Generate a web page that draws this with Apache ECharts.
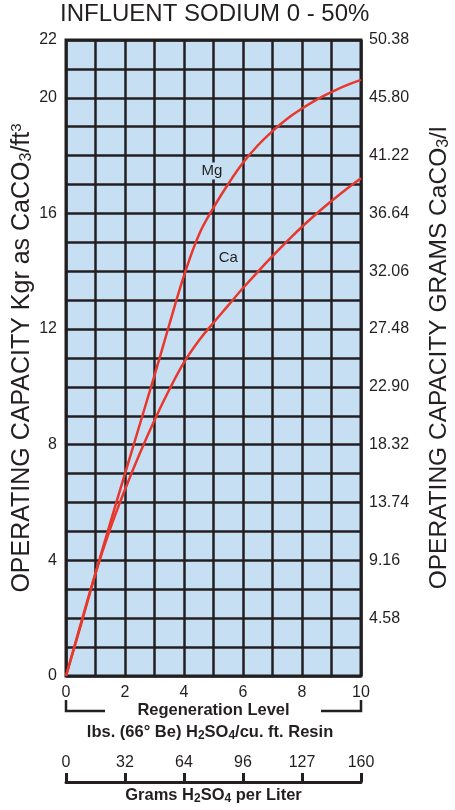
<!DOCTYPE html>
<html><head><meta charset="utf-8">
<script src="https://cdn.jsdelivr.net/npm/echarts@6/dist/echarts.min.js"></script>
<style>html,body{margin:0;padding:0;background:#fff}#c{width:455px;height:810px}</style>
</head><body><div id="c"></div>
<script>
// ---- data ----
const regenLevels = [0,0.5,1,1.5,2,2.5,3,3.5,4,4.5,5,5.5,6,6.5,7,7.5,8,8.5,9,9.5,10];
const mgCapacity  = [0,1.75,3.55,5.3,7.0,8.7,10.4,12.15,13.85,15.25,16.2,17.02,17.75,18.35,18.85,19.28,19.63,19.94,20.2,20.43,20.62];
const caCapacity  = [0,1.8,3.55,5.1,6.45,7.7,8.85,9.9,10.85,11.6,12.22,12.82,13.42,13.98,14.52,15.04,15.54,16.0,16.43,16.84,17.22];
const xTickLabels = [0,2,4,6,8,10];
const leftTickLabels = [0,4,8,12,16,20,22];
const rightTickValues = [2,4,6,8,10,12,14,16,18,20,22];
const rightTickLabels = ['4.58','9.16','13.74','18.32','22.90','27.48','32.06','36.64','41.22','45.80','50.38'];
const gramsTickValues = [0,2,4,6,8,10];
const gramsTickLabels = ['0','32','64','96','127','160'];
const mgLabelAt = [4.95, 17.47];
const caLabelAt = [5.5, 14.46];

// ---- style ----
const FONT = 'Liberation Sans, Arial, sans-serif';
const INK = '#231f20';
const RED = '#e8382e';
const FILL = '#c7dff2';
const G = {left: 66, right: 94, top: 40, bottom: 134};

const chart = echarts.init(document.getElementById('c'), null, {renderer: 'canvas'});
const zip = (xs, ys) => xs.map((x, i) => [x, ys[i]]);

const option = {
  animation: false,
  backgroundColor: '#fff',
  title: {
    text: 'INFLUENT SODIUM 0 - 50%', left: 60, top: 2, padding: 0,
    textStyle: {fontSize: 24, fontWeight: 'normal', color: INK, fontFamily: FONT}
  },
  grid: [
    {left: G.left, right: G.right, top: G.top, bottom: G.bottom, show: true,
     containLabel: false, outerBoundsMode: 'none',
     backgroundColor: FILL, borderColor: INK, borderWidth: 3},
    {left: G.left, right: G.right, top: 782, height: 10, show: false,
     containLabel: false, outerBoundsMode: 'none'}
  ],
  xAxis: [
    {type: 'value', gridIndex: 0, min: 0, max: 10, interval: 1, position: 'bottom',
     axisLine: {show: false, onZero: false}, axisTick: {show: false},
     splitLine: {show: true, lineStyle: {color: INK, width: 2.5}},
     axisLabel: {margin: 9, fontSize: 16, color: INK, fontFamily: FONT,
       formatter: v => xTickLabels.includes(v) ? String(v) : ''}},
    {type: 'value', gridIndex: 1, min: 0, max: 10, interval: 2, position: 'top',
     axisLine: {show: true, onZero: false, lineStyle: {color: INK, width: 3}},
     axisTick: {show: true, inside: false, length: 9, lineStyle: {color: INK, width: 3}},
     splitLine: {show: false},
     axisLabel: {margin: 11, fontSize: 16, color: INK, fontFamily: FONT,
       formatter: v => { const i = gramsTickValues.indexOf(v); return i >= 0 ? gramsTickLabels[i] : ''; }}}
  ],
  yAxis: [
    {type: 'value', gridIndex: 0, min: 0, max: 22, interval: 1, position: 'left',
     axisLine: {show: false, onZero: false}, axisTick: {show: false},
     splitLine: {show: true, lineStyle: {color: INK, width: 2.5}},
     axisLabel: {margin: 9, fontSize: 16, color: INK, fontFamily: FONT,
       formatter: v => leftTickLabels.includes(v) ? String(v) : ''}},
    {type: 'value', gridIndex: 0, min: 0, max: 22, interval: 1, position: 'right',
     axisLine: {show: false, onZero: false}, axisTick: {show: false}, splitLine: {show: false},
     axisLabel: {margin: 8, fontSize: 16, color: INK, fontFamily: FONT,
       formatter: v => { const i = rightTickValues.indexOf(v); return i >= 0 ? rightTickLabels[i] : ''; }}},
    {type: 'value', gridIndex: 1, min: 0, max: 1, show: false}
  ],
  series: [
    {name: 'Mg', type: 'line', xAxisIndex: 0, yAxisIndex: 0, data: zip(regenLevels, mgCapacity),
     smooth: 0.4, showSymbol: false, symbol: 'none', lineStyle: {color: RED, width: 2.5}, z: 5},
    {name: 'Ca', type: 'line', xAxisIndex: 0, yAxisIndex: 0, data: zip(regenLevels, caCapacity),
     smooth: 0.4, showSymbol: false, symbol: 'none', lineStyle: {color: RED, width: 2.5}, z: 5}
  ]
};
chart.setOption(option);

const p0 = chart.convertToPixel({gridIndex: 0}, [0, 0]);
const p10 = chart.convertToPixel({gridIndex: 0}, [10, 22]);
const pMg = chart.convertToPixel({gridIndex: 0}, mgLabelAt);
const pCa = chart.convertToPixel({gridIndex: 0}, caLabelAt);
const midX = (p0[0] + p10[0]) / 2;
const midY = (p0[1] + p10[1]) / 2;
const boldStyle = {fontSize: 16.5, fontWeight: 'bold', fontFamily: FONT, fill: INK};
const subRich = {sub: {fontSize: 12, fontWeight: 'bold', fontFamily: FONT, fill: INK, padding: [8, 0, 0, 0]}};
const nameRich = {
  sub: {fontSize: 16, fontFamily: FONT, fill: INK, padding: [10, 0, 0, 0]},
  sup: {fontSize: 15, fontFamily: FONT, fill: INK, padding: [0, 0, 10, 0]}
};

chart.setOption({
  graphic: [
    {type: 'text', x: 22, y: midY, rotation: Math.PI / 2, z: 20,
     style: {text: 'OPERATING CAPACITY Kgr as CaCO{sub|3}/ft{sup|3}', rich: nameRich,
       fontSize: 25, fontFamily: FONT, fill: INK, align: 'center', verticalAlign: 'middle'}},
    {type: 'text', x: 439, y: midY, rotation: Math.PI / 2, z: 20,
     style: {text: 'OPERATING CAPACITY GRAMS CaCO{sub|3}/l', rich: nameRich,
       fontSize: 24.5, fontFamily: FONT, fill: INK, align: 'center', verticalAlign: 'middle'}},
    {type: 'text', x: pMg[0], y: pMg[1], z: 20,
     style: {text: 'Mg', fontSize: 15, fontFamily: FONT, fill: INK, align: 'center', verticalAlign: 'middle',
       backgroundColor: FILL, padding: [1, 1]}},
    {type: 'text', x: pCa[0], y: pCa[1], z: 20,
     style: {text: 'Ca', fontSize: 15, fontFamily: FONT, fill: INK, align: 'center', verticalAlign: 'middle'}},
    // bracket
    {type: 'polyline', z: 20, shape: {points: [[p0[0], 700], [p0[0], 711], [105, 711]]},
     style: {stroke: INK, lineWidth: 2.5, fill: null}},
    {type: 'polyline', z: 20, shape: {points: [[321, 711], [p10[0], 711], [p10[0], 700]]},
     style: {stroke: INK, lineWidth: 2.5, fill: null}},
    {type: 'text', x: midX, y: 710, z: 20,
     style: Object.assign({text: 'Regeneration Level', align: 'center', verticalAlign: 'middle'}, boldStyle)},
    {type: 'text', x: 210, y: 732, z: 20,
     style: Object.assign({text: 'lbs. (66° Be) H{sub|2}SO{sub|4}/cu. ft. Resin', align: 'center', verticalAlign: 'middle', rich: subRich}, boldStyle)},
    {type: 'text', x: midX, y: 795, z: 20,
     style: Object.assign({text: 'Grams H{sub|2}SO{sub|4} per Liter', align: 'center', verticalAlign: 'middle', rich: subRich}, boldStyle)}
  ]
});
</script></body></html>
